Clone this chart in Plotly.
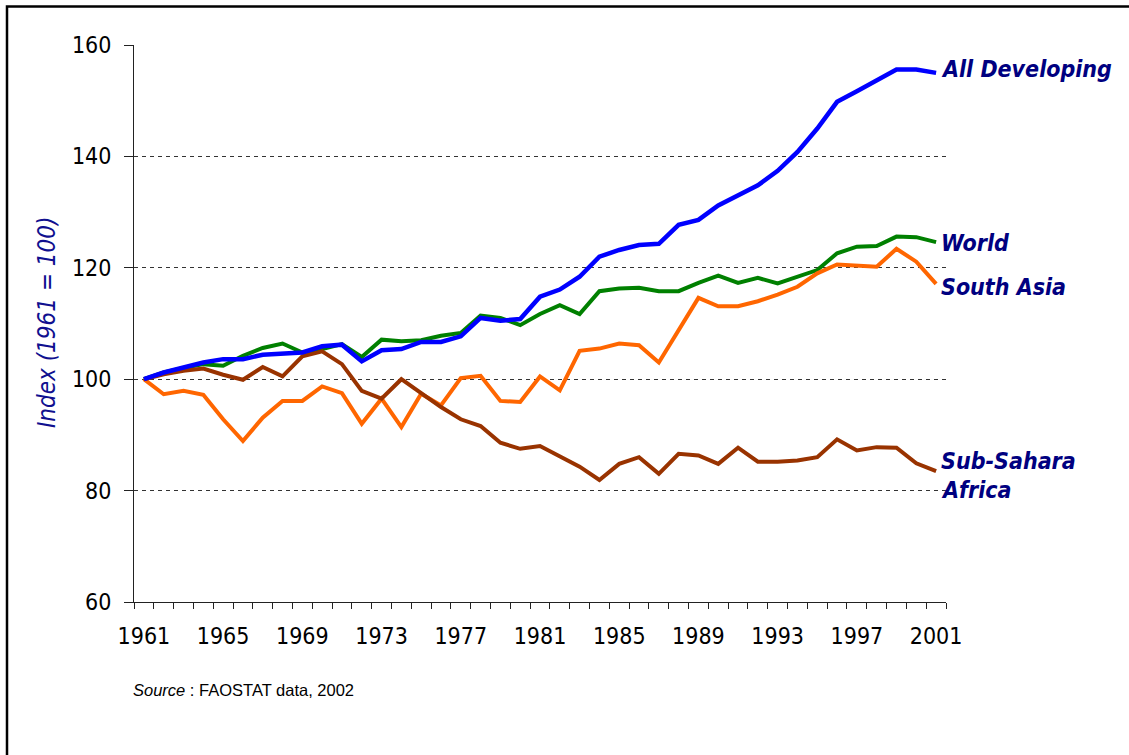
import plotly.graph_objects as go

years = list(range(1961, 2002))

all_developing = [100, 101.2, 102.1, 103.0, 103.6, 103.6, 104.4, 104.7, 104.8, 105.9,
                  106.2, 103.2, 105.2, 105.4, 106.7, 106.7, 107.7, 111.0, 110.5, 110.8,
                  114.8, 116.1, 118.4, 122.0, 123.2, 124.1, 124.3, 127.7, 128.6, 131.2,
                  132.9, 134.8, 137.4, 140.8, 145.0, 149.8, 151.7, 153.7, 155.6, 155.6,
                  155.0]
world = [100, 101.2, 102.0, 102.7, 102.4, 104.2, 105.6, 106.4, 104.8, 105.4,
         106.3, 104.0, 107.1, 106.8, 107.0, 107.8, 108.3, 111.4, 111.0, 109.7,
         111.7, 113.3, 111.7, 115.8, 116.3, 116.4, 115.8, 115.8, 117.3, 118.6,
         117.3, 118.2, 117.2, 118.4, 119.6, 122.6, 123.8, 123.9, 125.6, 125.5,
         124.6]
south_asia = [100, 97.3, 97.9, 97.2, 92.8, 88.9, 93.1, 96.1, 96.1, 98.7,
              97.5, 92.0, 96.5, 91.4, 97.4, 95.3, 100.2, 100.6, 96.1, 95.9,
              100.5, 98.0, 105.1, 105.5, 106.4, 106.1, 103.0, 108.7, 114.6, 113.1,
              113.1, 114.0, 115.2, 116.6, 119.0, 120.6, 120.4, 120.2, 123.4, 121.1,
              117.1]
sub_sahara = [100, 100.9, 101.5, 101.9, 100.8, 99.9, 102.2, 100.5, 104.1, 105.0,
              102.7, 97.9, 96.5, 100.0, 97.5, 95.0, 92.8, 91.6, 88.6, 87.5,
              88.0, 86.1, 84.3, 81.9, 84.8, 86.0, 83.0, 86.6, 86.3, 84.8,
              87.7, 85.2, 85.2, 85.4, 86.0, 89.2, 87.2, 87.8, 87.7, 84.9,
              83.5]

tick_years = [1961, 1965, 1969, 1973, 1977, 1981, 1985, 1989, 1993, 1997, 2001]
y_ticks = [60, 80, 100, 120, 140, 160]

label_texts = ["All Developing", "World", "South Asia", "Sub-Sahara", "Africa"]
label_y = [155.7, 124.4, 116.5, 85.3, 80.1]

y_title = "Index (1961 = 100)"
source_text = "<i>Source</i> : FAOSTAT data, 2002"

W, H = 1129, 755
L, R, T, B = 134, 183, 45, 153
pw, ph = W - L - R, H - T - B

def px_x(p):
    return (p - L) / pw

def px_y(p):
    return (H - B - p) / ph

tick_font = dict(family="DejaVu Sans Condensed, DejaVu Sans, sans-serif", size=23, color="black")
label_family = "DejaVu Sans Condensed, DejaVu Sans, sans-serif"

fig = go.Figure()
series = [
    (world, "#008000", 4),
    (south_asia, "#FF6600", 4),
    (sub_sahara, "#993300", 4),
    (all_developing, "#0000FF", 4.5),
]
for vals, col, w in series:
    fig.add_trace(go.Scatter(x=years, y=vals, mode="lines",
                             line=dict(color=col, width=w), showlegend=False,
                             hoverinfo="skip"))

for txt, yv in zip(label_texts, label_y):
    fig.add_annotation(x=2001, y=yv, xref="x", yref="y", text=txt,
                       showarrow=False, xanchor="left", yanchor="middle", xshift=3,
                       font=dict(family=label_family, size=23, color="#000080",
                                 weight="bold", style="italic"))

fig.add_annotation(x=px_x(47), y=px_y(323), xref="paper", yref="paper", text=y_title,
                   showarrow=False, textangle=-90, xanchor="center", yanchor="middle",
                   font=dict(family=label_family, size=24, color="#10108f", style="italic"))

fig.add_annotation(x=px_x(131), y=px_y(690), xref="paper", yref="paper", text=source_text,
                   showarrow=False, xanchor="left", yanchor="middle",
                   font=dict(family="Liberation Sans, Arial, sans-serif", size=16.5, color="black"))

fig.add_shape(type="rect", xref="paper", yref="paper",
              x0=px_x(7), x1=px_x(1200), y0=px_y(800), y1=px_y(6.5),
              line=dict(color="black", width=2.5), fillcolor="rgba(0,0,0,0)", layer="below")

fig.update_layout(
    width=W, height=H,
    margin=dict(l=L, r=R, t=T, b=B, pad=0),
    paper_bgcolor="white", plot_bgcolor="white",
    xaxis=dict(range=[1960.5, 2001.5], tickmode="array", tickvals=tick_years,
               ticktext=[str(y) for y in tick_years], ticks="", showgrid=False,
               zeroline=False, showline=True, linecolor="#222222", linewidth=1,
               tickfont=tick_font, ticklabelstandoff=13,
               minor=dict(ticks="outside", tick0=1960.5, dtick=1, ticklen=6,
                          tickcolor="#222222", tickwidth=1, showgrid=False)),
    yaxis=dict(range=[60, 160], tickmode="array", tickvals=y_ticks, ticks="outside",
               ticklen=9, tickcolor="#222222", showline=True, linecolor="#222222",
               linewidth=1, zeroline=False, showgrid=True, gridcolor="#333333",
               gridwidth=1, griddash="4px,4px", tickfont=tick_font,
               ticklabelstandoff=8),
)

fig.write_html("out.html",
               config={"displayModeBar": False, "staticPlot": True},
               post_script="document.body.style.margin='0px';"
                           "document.documentElement.style.overflow='hidden';")
